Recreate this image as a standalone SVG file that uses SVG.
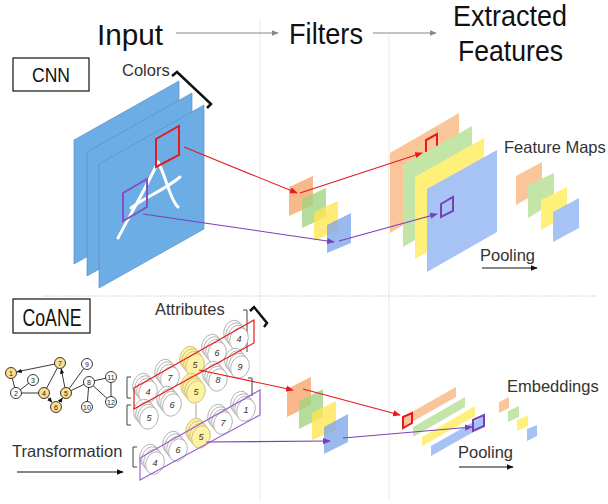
<svg xmlns="http://www.w3.org/2000/svg" xmlns:xlink="http://www.w3.org/1999/xlink" width="608" height="504" viewBox="0 0 608 504">
<style>
.h{font-family:"Liberation Sans",Arial,sans-serif;fill:#111;font-size:30px}
.l{font-family:"Liberation Sans",Arial,sans-serif;fill:#333;font-size:16.5px}
.sep{stroke:#ececec;stroke-width:1.2;fill:none}
.o{fill:#F6A468}.g{fill:#9FD47F}.y{fill:#FFE54E}.b{fill:#7EA5EA}
.t{opacity:.78}
.po{fill:#FAC598}.pg{fill:#C3E6A8}.py{fill:#FFF07A}.pb{fill:#A7C2F5}
.cw{fill:#fff;stroke:#a8a8a8;stroke-width:.8}
.cy{fill:#FDF2A4;stroke:#cbbb78;stroke-width:.8}
.cn{font-family:"Liberation Sans",Arial,sans-serif;font-size:9px;font-style:italic;fill:#333;text-anchor:middle}
.gn{stroke:#222;stroke-width:.9}
.gt{font-family:"Liberation Sans",Arial,sans-serif;font-size:7px;fill:#222;text-anchor:middle}
.br{fill:none;stroke:#444;stroke-width:1}
</style>
<defs>
<marker id="ag" viewBox="0 0 10 10" refX="9" refY="5" markerWidth="6" markerHeight="6" orient="auto"><path d="M0,1L10,5L0,9z" fill="#888"/></marker>
<marker id="ar" viewBox="0 0 10 10" refX="9" refY="5" markerWidth="7" markerHeight="7" orient="auto"><path d="M0,1L10,5L0,9z" fill="#e8191c"/></marker>
<marker id="ap" viewBox="0 0 10 10" refX="9" refY="5" markerWidth="7" markerHeight="7" orient="auto"><path d="M0,1L10,5L0,9z" fill="#7a3fb8"/></marker>
<marker id="ak" viewBox="0 0 10 10" refX="9" refY="5" markerWidth="6" markerHeight="6" orient="auto"><path d="M0,1L10,5L0,9z" fill="#111"/></marker>
<g id="stk">
<ellipse cx="-6" cy="-7.5" rx="9" ry="11.5" transform="rotate(20 -6 -7.5)"/>
<ellipse cx="-4" cy="-5" rx="9" ry="11.5" transform="rotate(20 -4 -5)"/>
<ellipse cx="-2" cy="-2.5" rx="9" ry="11.5" transform="rotate(20 -2 -2.5)"/>
<ellipse cx="0" cy="0" rx="9" ry="11.5" transform="rotate(20 0 0)"/>
</g>
</defs>
<rect width="608" height="504" fill="#fff"/>

<g id="separators">
<line class="sep" x1="260" y1="20" x2="260" y2="500"/>
<line class="sep" x1="389" y1="34" x2="389" y2="500"/>
<line x1="43" y1="296" x2="598" y2="296" stroke="#c8c8c8" stroke-width="1" stroke-dasharray="1.5 1.5"/>
</g>

<g id="headings">
<text class="h" x="97" y="45" textLength="66" lengthAdjust="spacingAndGlyphs">Input</text>
<text class="h" x="289" y="44" textLength="74" lengthAdjust="spacingAndGlyphs">Filters</text>
<text class="h" x="453" y="26" textLength="114" lengthAdjust="spacingAndGlyphs">Extracted</text>
<text class="h" x="458" y="61" textLength="105" lengthAdjust="spacingAndGlyphs">Features</text>
<line x1="176" y1="33" x2="278" y2="33" stroke="#888" stroke-width="1.2" marker-end="url(#ag)"/>
<line x1="373" y1="33" x2="436" y2="33" stroke="#888" stroke-width="1.2" marker-end="url(#ag)"/>
</g>

<g id="cnn-label">
<rect x="13" y="58" width="76" height="33" fill="#fff" stroke="#111" stroke-width="1.2"/>
<text x="51" y="82" text-anchor="middle" font-family="Liberation Sans, Arial, sans-serif" font-size="21" fill="#111" textLength="38" lengthAdjust="spacingAndGlyphs">CNN</text>
</g>

<g id="input-image">
<text class="l" x="122" y="76">Colors</text>
<polyline points="172,76 177,72 211,104 207,108" fill="none" stroke="#111" stroke-width="2.5"/>
<polygon points="74,140 179,81 179,205 74,264" fill="#6CADE6" stroke="#5b8fc2" stroke-width=".7"/>
<polygon points="87,152 192,93 192,217 87,276" fill="#6CADE6" stroke="#5b8fc2" stroke-width=".7"/>
<polygon points="99,164 204,105 204,229 99,288" fill="#6CADE6" stroke="#5b8fc2" stroke-width=".7"/>
<g fill="none" stroke="#fff" stroke-width="3" stroke-linecap="round">
<path d="M118,238 C130,215 145,190 158,162"/>
<path d="M158,162 C166,176 170,200 178,207"/>
<path d="M131,208 C145,197 165,190 180,177"/>
</g>
<polygon points="156,139 179,126 179,155 156,167" fill="none" stroke="#e8191c" stroke-width="2"/>
<polygon points="123,193 147,179 147,207 123,221" fill="none" stroke="#8450c4" stroke-width="2"/>
</g>

<g id="cnn-filters">
<polygon class="o t" points="289,187 313,176 313,205 289,216"/>
<polygon class="g t" points="302,199 326,188 326,217 302,228"/>
<polygon class="y t" points="314,212 338,201 338,230 314,241"/>
<polygon class="b t" points="327,225 351,213 351,243 327,253"/>
</g>

<g id="feature-maps">
<polygon class="po" points="390,153 459,113 459,193 390,233"/>
<polyline points="426,152 426,140 437,134 437,146" fill="none" stroke="#e8191c" stroke-width="2"/>
<polygon class="pg" points="403,165 472,126 472,207 403,247"/>
<polygon class="py" points="415,177 484,138 484,220 415,259"/>
<polygon class="pb" points="427,189 497,150 497,232 427,272"/>
<polygon points="441,204 453,197 453,211 441,217" fill="none" stroke="#7a3fb8" stroke-width="2"/>
</g>

<g id="pooled-maps">
<text class="l" x="504" y="153">Feature Maps</text>
<polygon class="po" points="516,176 542,162 542,190 516,205"/>
<polygon class="pg" points="528,185 554,173 554,202 528,218"/>
<polygon class="py" points="541,200 567,187 567,215 541,230"/>
<polygon class="pb" points="553,212 579,198 579,228 553,242"/>
<text class="l" x="480" y="261">Pooling</text>
<line x1="482" y1="268" x2="537" y2="268" stroke="#111" stroke-width="1.2" marker-end="url(#ak)"/>
</g>

<g id="coane-label">
<rect x="13" y="299" width="77" height="34" fill="#fff" stroke="#111" stroke-width="1.2"/>
<text x="52" y="326" text-anchor="middle" font-family="Liberation Sans, Arial, sans-serif" font-size="23" fill="#111" textLength="59" lengthAdjust="spacingAndGlyphs">CoANE</text>
</g>

<g id="graph">
<g class="gn" fill="none">
<line x1="11" y1="373" x2="16" y2="393"/>
<line x1="16" y1="393" x2="33" y2="380"/>
<line x1="16" y1="393" x2="44" y2="393"/>
<line x1="44" y1="393" x2="60" y2="363"/>
<line x1="66" y1="393" x2="87" y2="364"/>
<line x1="66" y1="393" x2="89" y2="382"/>
<line x1="89" y1="382" x2="111" y2="377"/>
<line x1="89" y1="382" x2="111" y2="402"/>
<line x1="89" y1="382" x2="87" y2="407"/>
<line x1="111" y1="377" x2="111" y2="402"/>
<line x1="54.6" y1="364.1" x2="16.9" y2="371.8" marker-end="url(#ak)"/>
<line x1="47.6" y1="397.2" x2="52.1" y2="402.4" marker-end="url(#ak)"/>
<line x1="59.2" y1="402.5" x2="62.5" y2="397.9" marker-end="url(#ak)"/>
<line x1="64.9" y1="387.6" x2="61.2" y2="368.9" marker-end="url(#ak)"/>
</g>
<g class="gn">
<circle cx="11" cy="373" r="5.5" fill="#FADF8E"/>
<circle cx="60" cy="363" r="5.5" fill="#FADF8E"/>
<circle cx="87" cy="364" r="5.5" fill="#fff"/>
<circle cx="33" cy="380" r="5.5" fill="#fff"/>
<circle cx="16" cy="393" r="5.5" fill="#fff"/>
<circle cx="44" cy="393" r="5.5" fill="#FADF8E"/>
<circle cx="66" cy="393" r="5.5" fill="#FADF8E"/>
<circle cx="89" cy="382" r="5.5" fill="#fff"/>
<circle cx="111" cy="377" r="5.5" fill="#fff"/>
<circle cx="56" cy="407" r="5.5" fill="#FADF8E"/>
<circle cx="87" cy="407" r="5.5" fill="#fff"/>
<circle cx="111" cy="402" r="5.5" fill="#fff"/>
</g>
<g class="gt">
<text x="11" y="375.5">1</text><text x="60" y="365.5">7</text><text x="87" y="366.5">9</text>
<text x="33" y="382.5">3</text><text x="16" y="395.5">2</text><text x="44" y="395.5">4</text>
<text x="66" y="395.5">5</text><text x="89" y="384.5">8</text><text x="111" y="379.5">11</text>
<text x="56" y="409.5">6</text><text x="87" y="409.5">10</text><text x="111" y="404.5">12</text>
</g>
</g>

<g id="attributes">
<text class="l" x="155" y="315" font-size="17.5">Attributes</text>
<polyline points="250,311 254,307 267,323 264,327" fill="none" stroke="#111" stroke-width="2.5"/>
<path class="br" d="M243,310 H247 V352"/>
<path class="br" d="M248,378 H252 V396"/>
<path class="br" d="M131,377 H127 V398 H131"/>
<path class="br" d="M131,405 H127 V425 H131"/>
<path class="br" d="M137,447 H133 V467 H137"/>
<use xlink:href="#stk" class="cw" x="148" y="392"/>
<use xlink:href="#stk" class="cw" x="170" y="378"/>
<use xlink:href="#stk" class="cy" x="195" y="365"/>
<use xlink:href="#stk" class="cw" x="217" y="353"/>
<use xlink:href="#stk" class="cw" x="239" y="339"/>
<g class="cn"><text x="148" y="395">4</text><text x="170" y="381">7</text><text x="195" y="368">5</text><text x="217" y="356">6</text><text x="239" y="342">4</text></g>
<use xlink:href="#stk" class="cw" x="149" y="418"/>
<use xlink:href="#stk" class="cw" x="172" y="405"/>
<use xlink:href="#stk" class="cy" x="196" y="392"/>
<use xlink:href="#stk" class="cw" x="218" y="380"/>
<use xlink:href="#stk" class="cw" x="240" y="367"/>
<g class="cn"><text x="149" y="421">5</text><text x="172" y="408">6</text><text x="196" y="395">5</text><text x="218" y="383">8</text><text x="240" y="370">9</text></g>
<line x1="196" y1="404" x2="196" y2="418" stroke="#888" stroke-width=".8"/>
<use xlink:href="#stk" class="cw" x="155" y="463"/>
<use xlink:href="#stk" class="cw" x="178" y="450"/>
<use xlink:href="#stk" class="cy" x="201" y="437"/>
<use xlink:href="#stk" class="cw" x="223" y="423"/>
<use xlink:href="#stk" class="cw" x="246" y="410"/>
<g class="cn"><text x="155" y="466">4</text><text x="178" y="453">6</text><text x="201" y="440">5</text><text x="223" y="426">7</text><text x="246" y="413">1</text></g>
<polygon points="134,388 254,320 254,343 134,409" fill="none" stroke="#e8191c" stroke-width="1.2"/>
<polygon points="140,458 260,390 260,415 140,480" fill="none" stroke="#9a62d0" stroke-width="1.2"/>
<text class="l" x="12" y="457" font-size="17">Transformation</text>
<line x1="17" y1="472" x2="123" y2="472" stroke="#111" stroke-width="1.2" marker-end="url(#ak)"/>
</g>

<g id="coane-filters">
<polygon class="o t" points="287,389 311,377 311,405 287,417"/>
<polygon class="g t" points="299,401 323,389 323,417 299,429"/>
<polygon class="y t" points="312,413 336,401 336,430 312,440"/>
<polygon class="b t" points="324,427 348,414 348,442 324,454"/>
</g>

<g id="embeddings">
<polygon class="po" points="403,417 456,387 456,397 403,427"/>
<polygon class="pg" points="413,427 465,397 465,407 413,437"/>
<polygon class="py" points="422,437 475,406 475,416 422,446"/>
<polygon class="pb" points="431,446 484,416 484,426 431,456"/>
<polygon points="403,417 412,413 412,423 403,428" fill="none" stroke="#e8191c" stroke-width="2"/>
<polygon points="473,420 484,415 484,426 473,431" fill="none" stroke="#7a3fb8" stroke-width="2"/>
</g>

<g id="pooled-embeddings">
<text class="l" x="507" y="392" font-size="17">Embeddings</text>
<polygon class="po" points="499,402 509,397 509,408 499,413"/>
<polygon class="pg" points="508,411 519,406 519,417 508,422"/>
<polygon class="py" points="517,420 528,415 528,426 517,431"/>
<polygon class="pb" points="527,429 537,425 537,436 527,441"/>
<text class="l" x="458" y="458">Pooling</text>
<line x1="459" y1="467" x2="513" y2="467" stroke="#111" stroke-width="1.2" marker-end="url(#ak)"/>
</g>

<g id="connectors" fill="none" stroke-width="1.1">
<line x1="184" y1="147" x2="297" y2="193" stroke="#e8191c" marker-end="url(#ar)"/>
<line x1="300" y1="193" x2="422" y2="153" stroke="#e8191c" marker-end="url(#ar)"/>
<line x1="143" y1="214" x2="334" y2="242" stroke="#7a3fb8" marker-end="url(#ap)"/>
<line x1="339" y1="241" x2="437" y2="214" stroke="#7a3fb8" marker-end="url(#ap)"/>
<line x1="199" y1="370" x2="293" y2="390" stroke="#e8191c" marker-end="url(#ar)"/>
<line x1="303" y1="389" x2="400" y2="415" stroke="#e8191c" marker-end="url(#ar)"/>
<line x1="206" y1="442" x2="330" y2="441" stroke="#7a3fb8" marker-end="url(#ap)"/>
<line x1="343" y1="438" x2="472" y2="427" stroke="#7a3fb8" marker-end="url(#ap)"/>
</g>
</svg>
